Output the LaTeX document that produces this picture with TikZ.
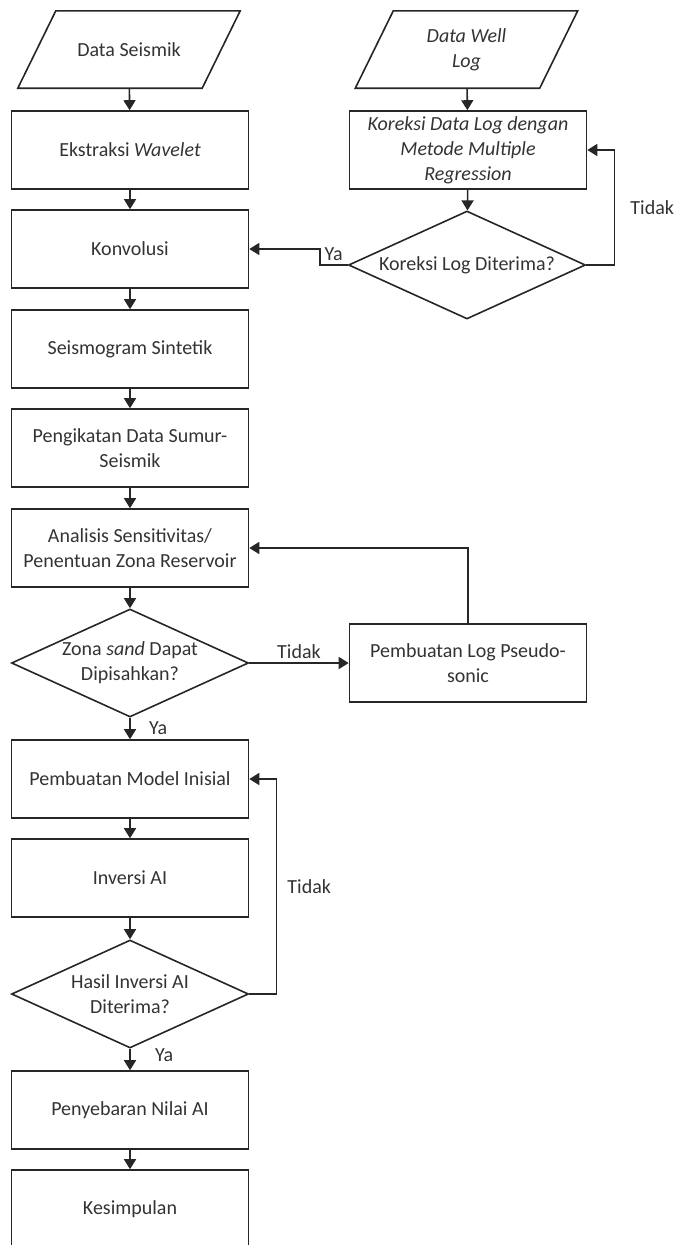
\documentclass[tikz,border=0pt]{standalone}
\usepackage{fontspec}
\setmainfont{Carlito}
\usetikzlibrary{shapes.geometric,arrows.meta,positioning}

\begin{document}
\begin{tikzpicture}[x=1pt,y=-1pt,
  font=\fontsize{20}{25}\selectfont, text=black!80,
  proc/.style={draw=black!85, line width=1.6pt, minimum width=237pt, minimum height=78pt, align=center, inner sep=2pt},
  dec/.style={draw=black!85, line width=1.6pt, diamond, aspect=2.2, minimum width=237pt, minimum height=108pt, align=center, inner sep=0pt},
  io/.style={minimum width=184pt, minimum height=77pt, align=center, inner sep=0pt},
  iobox/.style={draw=black!85, line width=1.6pt},
  arr/.style={draw=black!85, line width=1.6pt, -{Triangle[length=10pt,width=12pt]}}]
\useasboundingbox (0,0) rectangle (676,1245);
\node[io] (seis) at (129,49.5){Data Seismik};
\node[io] (well) at (466.5,49.5){\textit{Data Well}\\\textit{Log}};
\foreach \n in {seis,well}
  \draw[iobox] ([xshift=-19pt]\n.south west) -- ([xshift=19pt]\n.north west) -- ([xshift=19pt]\n.north east) -- ([xshift=-19pt]\n.south east) -- cycle;
\node[proc] (ekst) at (130,150){Ekstraksi \textit{Wavelet}};
\node[proc] (konv) at (130,249){Konvolusi};
\node[proc] (sint) at (130,349){Seismogram Sintetik};
\node[proc] (ikat) at (130,448){Pengikatan Data Sumur-\\Seismik};
\node[proc] (sens) at (130,548){Analisis Sensitivitas/\\Penentuan Zona Reservoir};
\node[dec] (zona) at (130,663){Zona \textit{sand} Dapat\\Dipisahkan?};
\node[proc] (model) at (130,779){Pembuatan Model Inisial};
\node[proc] (inv) at (130,878){Inversi AI};
\node[dec] (hasil) at (130,994){Hasil Inversi AI\\Diterima?};
\node[proc] (sebar) at (130,1110){Penyebaran Nilai AI};
\node[proc] (simpul) at (130,1209){Kesimpulan};
\node[proc] (kor) at (468,150){\textit{Koreksi Data Log dengan}\\\textit{Metode Multiple}\\\textit{Regression}};
\node[dec] (kordia) at (467,265){Koreksi Log Diterima?};
\node[proc] (pseudo) at (468,663){Pembuatan Log Pseudo-\\sonic};
\draw[arr](seis) -- (ekst);
\draw[arr](ekst) -- (konv);
\draw[arr](konv) -- (sint);
\draw[arr](sint) -- (ikat);
\draw[arr](ikat) -- (sens);
\draw[arr](sens) -- (zona);
\draw[arr](zona) -- node[right=15pt]{Ya} (model);
\draw[arr](model) -- (inv);
\draw[arr](inv) -- (hasil);
\draw[arr](hasil) -- node[pos=0.3,right=21pt]{Ya} (sebar);
\draw[arr](sebar) -- (simpul);
\draw[arr](well) -- (kor);
\draw[arr](kor) -- (kordia);
\draw[arr](kordia.west) -- node[above]{Ya} ++(-28,0) |- (konv.east);
\draw[arr](kordia.east) -- ++(28,0) |- node[pos=0.25,right=12pt]{Tidak} (kor.east);
\draw[arr](zona) -- node[above]{Tidak} (pseudo);
\draw[arr](pseudo.north) |- (sens.east);
\draw[arr](hasil.east) -- ++(27,0) |- node[pos=0.25,right=7pt]{Tidak} (model.east);
\end{tikzpicture}
\end{document}
